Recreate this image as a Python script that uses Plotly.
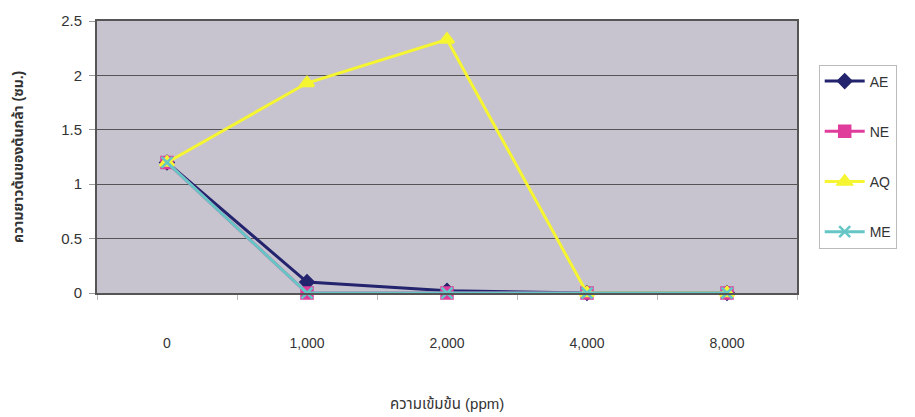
import plotly.graph_objects as go

categories = ["0", "1,000", "2,000", "4,000", "8,000"]
ae = [1.2, 0.1, 0.02, 0.0, 0.0]
ne = [1.2, 0.0, 0.0, 0.0, 0.0]
aq = [1.2, 1.93, 2.33, 0.0, 0.0]
me = [1.2, 0.0, 0.0, 0.0, 0.0]
y_ticks = [0, 0.5, 1, 1.5, 2, 2.5]
y_tick_labels = ["0", "0.5", "1", "1.5", "2", "2.5"]

series = [
    ("AE", ae, "#23236e", "diamond", 10),
    ("NE", ne, "#e03c9c", "square", 11),
    ("AQ", aq, "#f5f532", "triangle-up", 12),
    ("ME", me, "#66c6c6", "x-thin", 11),
]

fig = go.Figure()
for name, vals, color, sym, size in series:
    fig.add_trace(go.Scatter(
        x=categories, y=vals, name=name, mode="lines+markers",
        legendgroup=name, cliponaxis=False,
        line=dict(color=color, width=3),
        marker=dict(symbol=sym, size=size, color=color,
                    line=dict(color=color, width=2.5)),
    ))

font = "Liberation Sans, Arial, Noto Sans Thai, sans-serif"
fig.update_layout(
    width=915, height=417,
    margin=dict(l=97, r=118, t=15, b=124),
    paper_bgcolor="white",
    plot_bgcolor="#c8c4cf",
    font=dict(family=font, size=13, color="#333333"),
    showlegend=True,
    legend=dict(
        x=1.031, y=0.84, xanchor="left", yanchor="top",
        bgcolor="white", bordercolor="#bbbbbb", borderwidth=1,
        font=dict(size=14, color="#333333"),
        tracegroupgap=29, itemwidth=40,
    ),
    xaxis=dict(
        type="category", tickson="boundaries", ticks="outside",
        ticklen=5, tickcolor="#bbbbbb", showgrid=False,
        showline=True, linecolor="#555555", linewidth=2, mirror=True,
        ticklabelstandoff=36, range=[-0.5, 4.5],
        tickfont=dict(size=14, color="#333333"),
    ),
    yaxis=dict(
        range=[0, 2.5], tickvals=y_ticks, ticktext=y_tick_labels,
        ticks="outside", ticklen=6, tickcolor="#999999",
        showgrid=True, gridcolor="#555555", gridwidth=1,
        showline=True, linecolor="#555555", linewidth=2, mirror=True,
        zeroline=False, ticklabelstandoff=4,
        tickfont=dict(size=15, color="#333333"),
    ),
    annotations=[
        dict(text="<b>ความยาวต้นของต้นกล้า (ซม.)</b>", xref="paper", yref="paper",
             x=-0.113, y=0.5, textangle=-90, showarrow=False,
             xanchor="center", yanchor="middle",
             font=dict(size=14, color="#333333", family=font)),
        dict(text="ความเข้มข้น (ppm)", xref="paper", yref="paper",
             x=0.5, y=-0.405, showarrow=False,
             xanchor="center", yanchor="middle",
             font=dict(size=15, color="#333333", family=font)),
    ],
)

fig.write_html("out.html")
